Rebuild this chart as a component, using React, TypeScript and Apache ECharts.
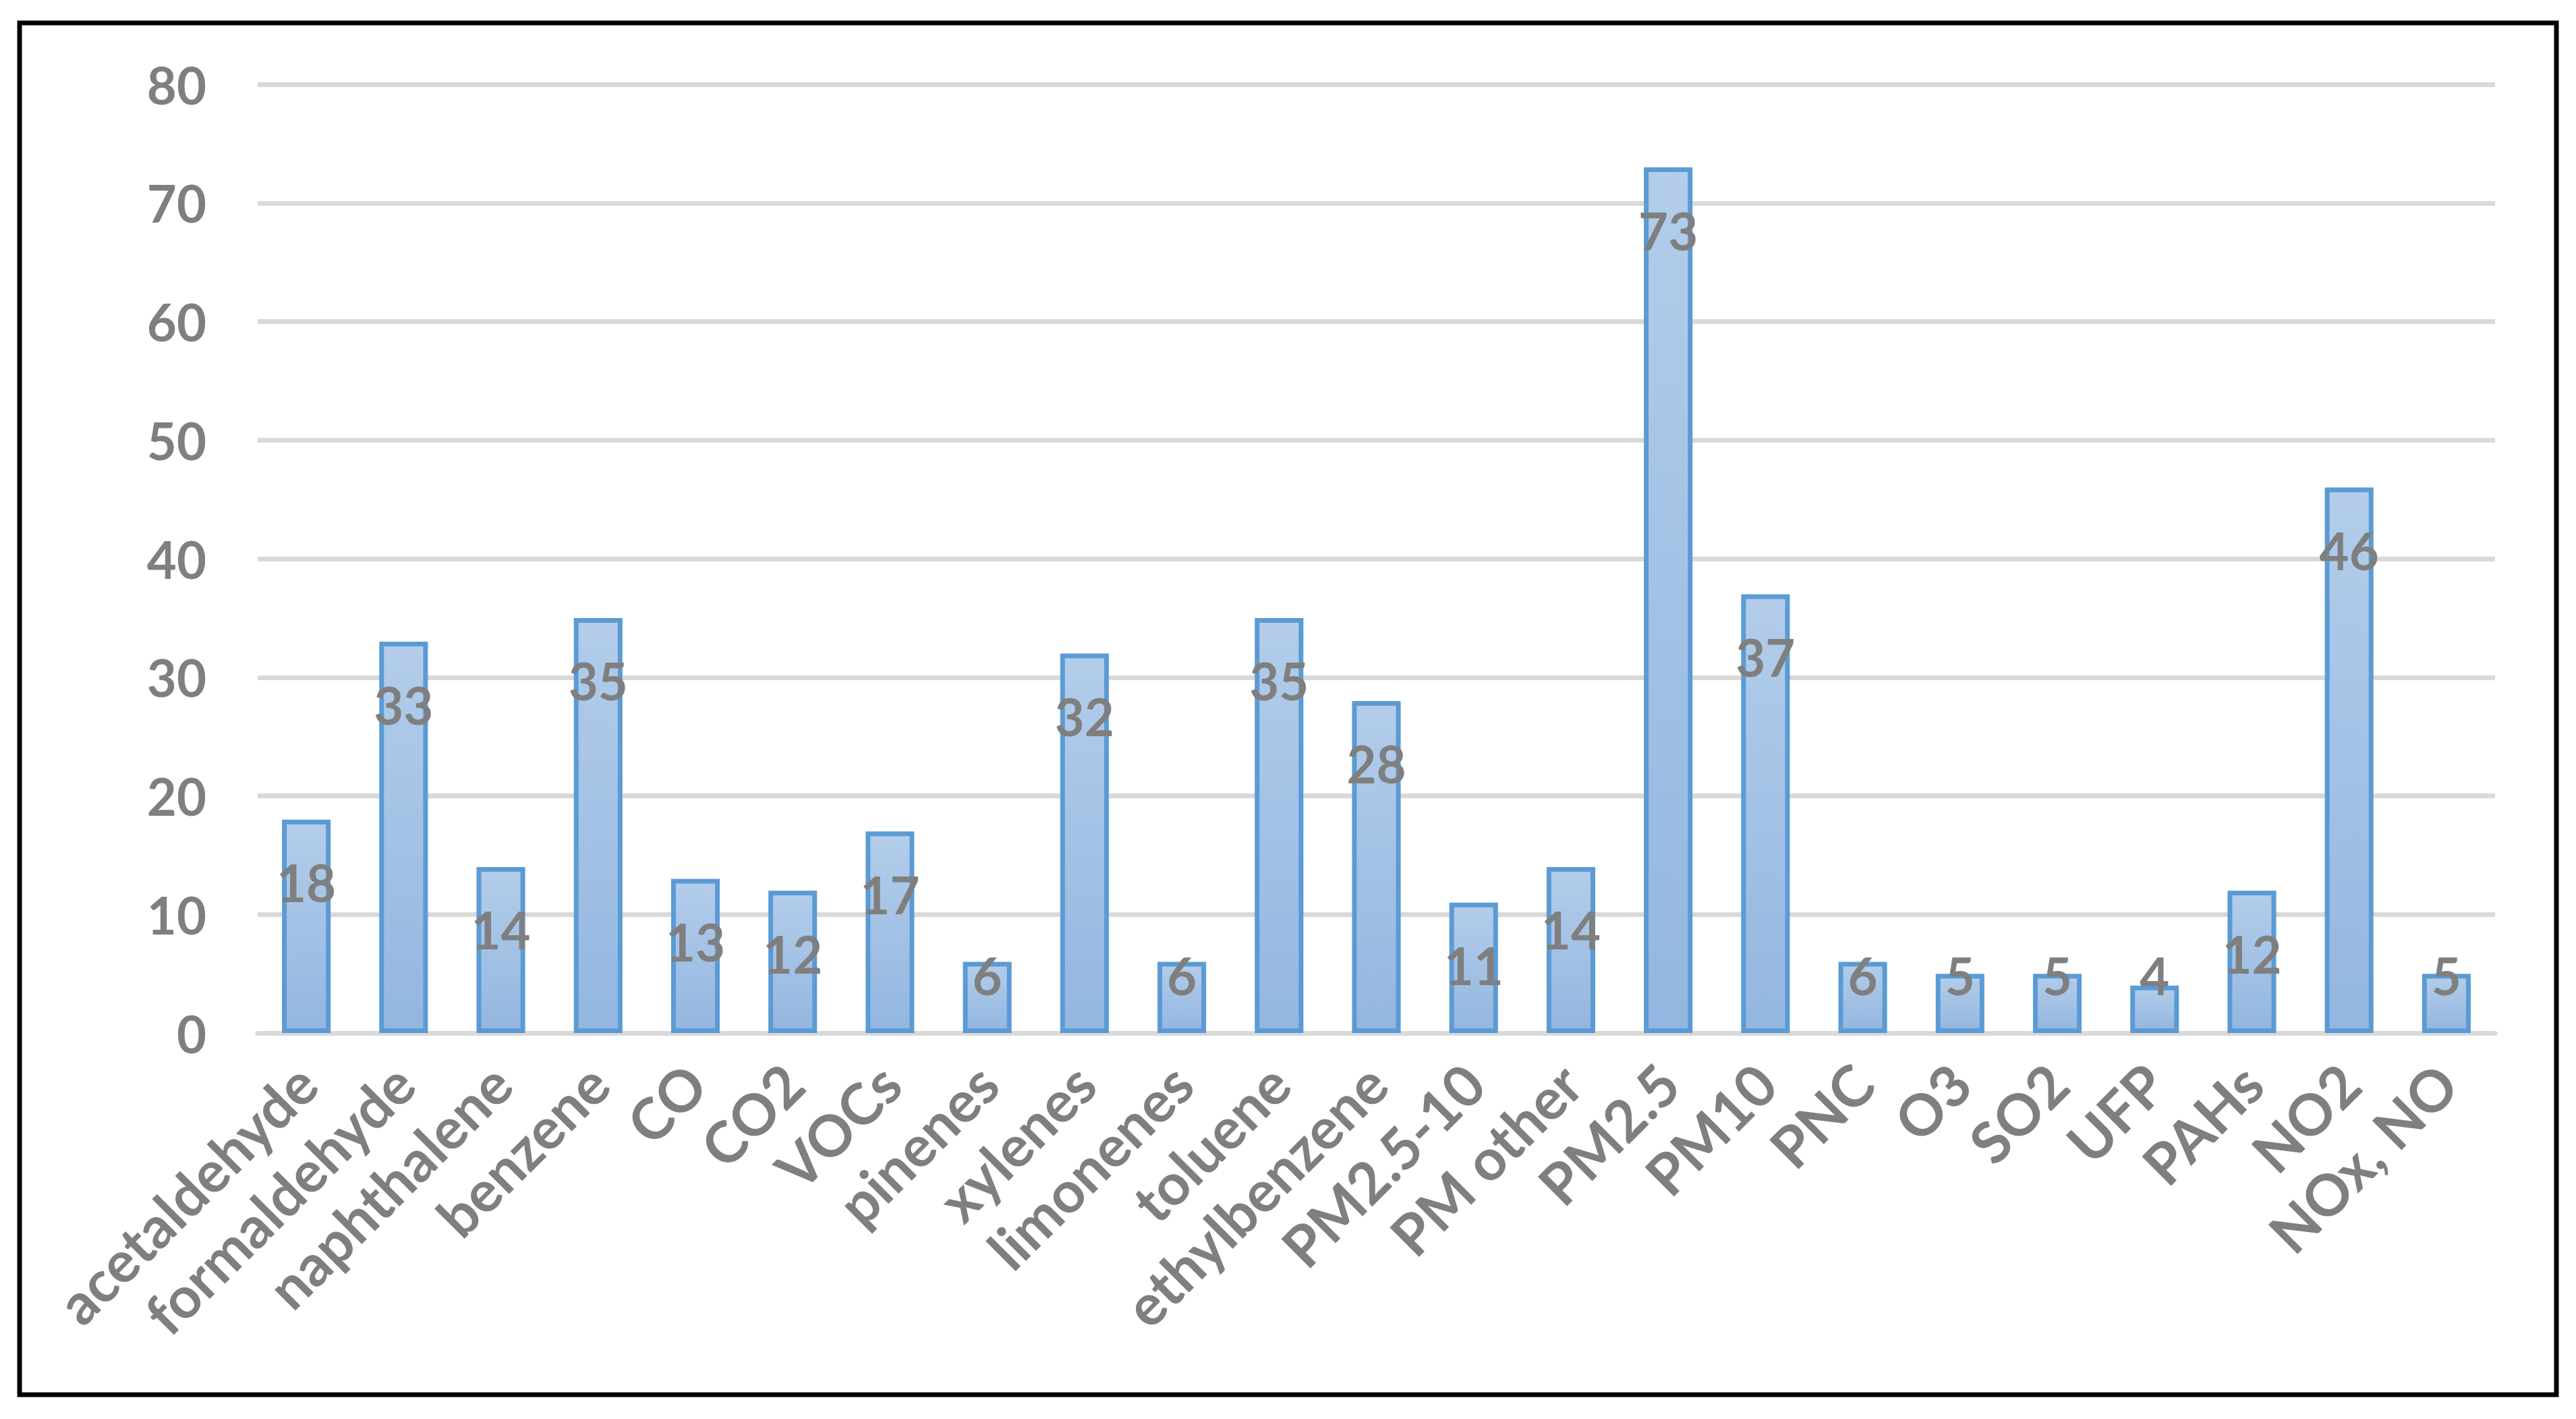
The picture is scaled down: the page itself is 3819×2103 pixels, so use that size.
import React, { useEffect, useRef } from "react";
import * as echarts from "echarts";

const categories = [
  "acetaldehyde", "formaldehyde", "naphthalene", "benzene", "CO", "CO2", "VOCs",
  "pinenes", "xylenes", "limonenes", "toluene", "ethylbenzene", "PM2.5-10",
  "PM other", "PM2.5", "PM10", "PNC", "O3", "SO2", "UFP", "PAHs", "NO2", "NOx, NO",
];
const counts = [18, 33, 14, 35, 13, 12, 17, 6, 32, 6, 35, 28, 11, 14, 73, 37, 6, 5, 5, 4, 12, 46, 5];
const yTicks = { min: 0, max: 80, interval: 10 };

const FONT = "Lato, 'Open Sans', sans-serif";
const GREY = "#7f7f7f";

export default function App() {
  const ref = useRef<HTMLDivElement>(null);
  useEffect(() => {
    if (!ref.current) return;
    const chart = echarts.init(ref.current, null, { renderer: "svg" });
    chart.setOption({
      animation: false,
      backgroundColor: "#ffffff",
      grid: { left: 382, right: 120, top: 125, bottom: 572, containLabel: false },
      graphic: [
        {
          type: "rect",
          shape: { x: 29, y: 34, width: 3761, height: 2033 },
          style: { fill: "none", stroke: "#000000", lineWidth: 7 },
          silent: true,
        },
      ],
      xAxis: {
        type: "category",
        data: categories,
        axisTick: { show: false },
        axisLine: { show: true, lineStyle: { color: "#d9d9d9", width: 7 } },
        axisLabel: {
          interval: 0,
          rotate: 45,
          margin: 60,
          color: GREY,
          fontFamily: FONT,
          fontWeight: "bold",
          fontSize: 85,
        },
      },
      yAxis: {
        type: "value",
        min: yTicks.min,
        max: yTicks.max,
        interval: yTicks.interval,
        axisLine: { show: false },
        axisTick: { show: false },
        splitLine: { lineStyle: { color: "#d9d9d9", width: 7 } },
        axisLabel: {
          margin: 76,
          color: GREY,
          fontFamily: FONT,
          fontWeight: "bold",
          fontSize: 76,
        },
      },
      series: [
        {
          type: "bar",
          data: counts,
          barWidth: "50%",
          itemStyle: {
            color: new echarts.graphic.LinearGradient(0, 0, 0, 1, [
              { offset: 0, color: "#b3cdea" },
              { offset: 1, color: "#93b6e0" },
            ]),
            borderColor: "#5b9bd5",
            borderWidth: 7,
          },
          label: {
            show: true,
            position: "insideTop",
            color: GREY,
            fontFamily: FONT,
            fontWeight: "bold",
            fontSize: 76,
          },
          labelLayout: (params: any) => {
            const r = params.rect;
            return {
              x: r.x + r.width / 2,
              y: Math.min(r.y + 93, r.y + r.height - 86),
              align: "center",
              verticalAlign: "middle",
            };
          },
        },
      ],
    });
    return () => chart.dispose();
  }, []);
  return (
    <div
      ref={ref}
      style={{ position: "fixed", left: 0, top: 0, width: 3819, height: 2103, background: "#fff" }}
    />
  );
}
